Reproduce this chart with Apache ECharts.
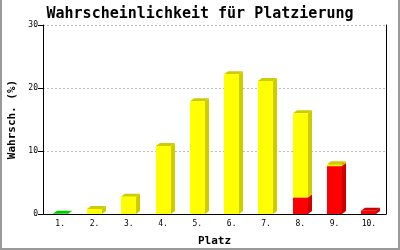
<!DOCTYPE html>
<html><head><meta charset="utf-8">
<script src="https://cdn.jsdelivr.net/npm/echarts/dist/echarts.min.js"></script>
<style>html,body{margin:0;padding:0;background:#fff}#c{width:400px;height:250px}</style>
</head><body><div id="c"></div>
<script>
const categories = ['1.','2.','3.','4.','5.','6.','7.','8.','9.','10.'];
const greenValues  = [0.05, 0, 0, 0, 0, 0, 0, 0, 0, 0];
const redValues    = [0, 0, 0, 0, 0, 0, 0, 2.6, 7.6, 0.5];
const yellowValues = [0, 0.8, 2.75, 10.8, 17.9, 22.2, 21.1, 13.4, 0.3, 0];
const yMin = 0, yMax = 30, yStep = 10;

const layers = [
  {name:'green', values: greenValues, front:'#00ff00', dark:'#00cc00'},
  {name:'red', values: redValues, front:'#ff0000', dark:'#cc0000'},
  {name:'yellow', values: yellowValues, front:'#ffff00', dark:'#cccc00'}
];

function make3D(front, dark){
  return function(params, api){
    const i = api.value(0), b = api.value(1), v = api.value(2);
    if (!(v > 0)) return null;
    const p0 = api.coord([i, b]);
    const p1 = api.coord([i, b + v]);
    const bw = Math.round(api.size([1, 0])[0] * 0.44);
    const dx = 4, dy = 3;
    const x0 = Math.round(p0[0] - bw / 2), x1 = x0 + bw;
    const yb = p0[1], yt = p1[1];
    return {type:'group', children:[
      {type:'polygon', shape:{points:[[x1,yb],[x1+dx,yb-dy],[x1+dx,yt-dy],[x1,yt]]}, style:{fill:dark}},
      {type:'polygon', shape:{points:[[x0,yt],[x0+dx,yt-dy],[x1+dx,yt-dy],[x1,yt]]}, style:{fill:dark}},
      {type:'rect', shape:{x:x0, y:yt, width:bw, height:yb-yt}, style:{fill:front}}
    ]};
  };
}

const base = categories.map(() => 0);
const series = layers.map(L => {
  const data = categories.map((c, i) => [i, base[i], L.values[i]]);
  L.values.forEach((v, i) => base[i] += v);
  return {type:'custom', name:L.name, renderItem: make3D(L.front, L.dark), data: data,
          encode:{x:0, y:[1,2]}, yAxisIndex:0};
});

const mono = '"DejaVu Sans Mono", "Liberation Mono", monospace';
const chart = echarts.init(document.getElementById('c'), null, {renderer:'canvas'});
chart.setOption({
  animation:false,
  title:{text:'Wahrscheinlichkeit für Platzierung', left:'center', top:2,
    textStyle:{fontFamily:mono, fontSize:15, fontWeight:'bold', color:'#000'}},
  grid:{left:43, right:14, top:25, bottom:36, containLabel:false, outerBoundsMode:'none'},
  xAxis:{type:'category', data:categories, boundaryGap:true,
    name:'Platz', nameLocation:'middle', nameGap:22,
    nameTextStyle:{fontFamily:mono, fontSize:11, fontWeight:'bold', color:'#000'},
    axisLine:{lineStyle:{color:'#000', width:1}}, axisTick:{show:false},
    axisLabel:{fontFamily:mono, fontSize:8, color:'#000', margin:6}},
  yAxis:[{type:'value', min:yMin, max:yMax, interval:yStep,
    name:'Wahrsch. (%)', nameLocation:'middle', nameGap:25,
    nameTextStyle:{fontFamily:mono, fontSize:11, fontWeight:'bold', color:'#000'},
    axisLine:{show:true, lineStyle:{color:'#000'}},
    axisTick:{show:true, length:5, lineStyle:{color:'#000'}},
    axisLabel:{fontFamily:mono, fontSize:8, color:'#000', margin:5},
    splitLine:{show:true, lineStyle:{color:'#bbb', type:[2,2]}}},
   {type:'value', min:yMin, max:yMax, interval:yStep, position:'right',
    axisLine:{show:true, lineStyle:{color:'#000'}}, axisTick:{show:false},
    axisLabel:{show:false}, splitLine:{show:false}}],
  graphic:[
    {type:'rect', left:0, top:0, shape:{width:2, height:250}, style:{fill:'#999'}},
    {type:'rect', left:398, top:0, shape:{width:2, height:250}, style:{fill:'#999'}},
    {type:'rect', left:0, top:248, shape:{width:400, height:2}, style:{fill:'#999'}}
  ],
  series: series
});
</script></body></html>
